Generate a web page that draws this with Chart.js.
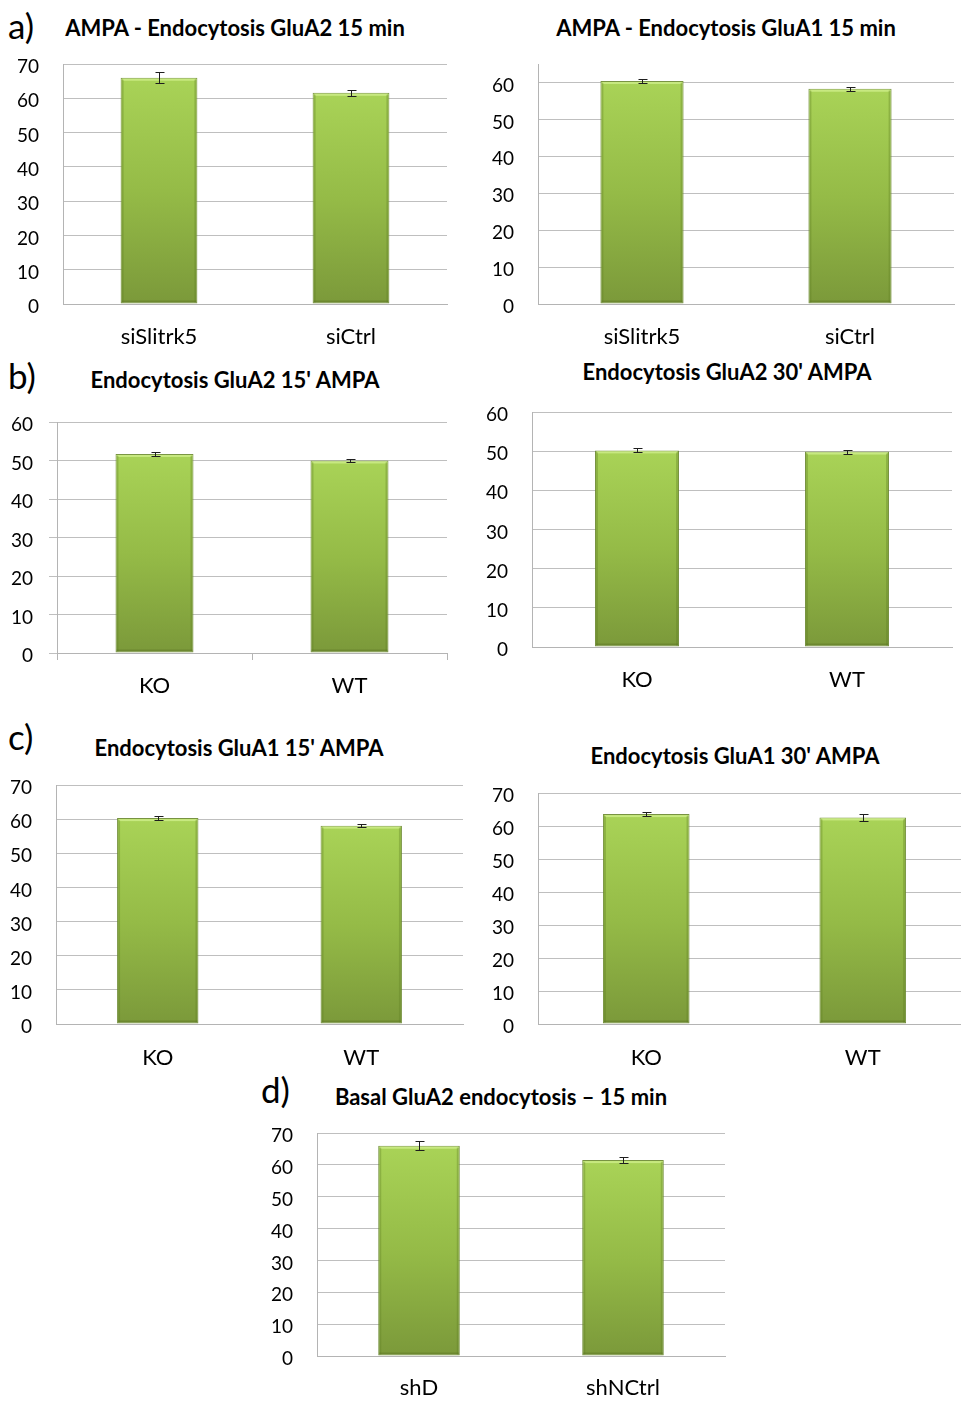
<!DOCTYPE html>
<html><head><meta charset="utf-8">
<script src="https://cdn.jsdelivr.net/npm/chart.js@4.4.1/dist/chart.umd.min.js"></script>
<style>
html,body{margin:0;padding:0;background:#fff;overflow:hidden;width:961px;height:1402px;}
body{position:relative;font-family:Lato,sans-serif;color:#000;}
canvas{position:absolute;}
.t{position:absolute;font-weight:bold;font-size:22px;line-height:1;white-space:nowrap;transform:translate(-50%,-55%);}
.p{position:absolute;font-size:35px;line-height:1;white-space:nowrap;transform:translate(0,-55%);}
</style></head><body>
<div class="p" style="left:8px;top:27px;">a)</div>
<div class="p" style="left:8px;top:377px;">b)</div>
<div class="p" style="left:8px;top:738px;">c)</div>
<div class="p" style="left:261px;top:1091px;">d)</div>
<div class="t" style="left:235px;top:29px;">AMPA - Endocytosis GluA2 15 min</div>
<div class="t" style="left:726px;top:29px;">AMPA - Endocytosis GluA1 15 min</div>
<div class="t" style="left:235px;top:381px;">Endocytosis GluA2 15' AMPA</div>
<div class="t" style="left:727px;top:373px;">Endocytosis GluA2 30' AMPA</div>
<div class="t" style="left:239px;top:749px;">Endocytosis GluA1 15' AMPA</div>
<div class="t" style="left:735px;top:757px;">Endocytosis GluA1 30' AMPA</div>
<div class="t" style="left:501px;top:1098px;">Basal GluA2 endocytosis – 15 min</div>
<script>
// ---- data ----
const catsSi = ['siSlitrk5', 'siCtrl'];
const catsGeno = ['KO', 'WT'];
const catsSh = ['shD', 'shNCtrl'];

const glua2Si15 = [66.0, 61.6];
const glua2Si15Err = [1.6, 0.9];
const glua1Si15 = [60.4, 58.3];
const glua1Si15Err = [0.5, 0.5];
const glua2Geno15 = [51.7, 50.0];
const glua2Geno15Err = [0.5, 0.5];
const glua2Geno30 = [50.2, 49.9];
const glua2Geno30Err = [0.5, 0.5];
const glua1Geno15 = [60.3, 58.1];
const glua1Geno15Err = [0.5, 0.5];
const glua1Geno30 = [63.6, 62.6];
const glua1Geno30Err = [0.7, 1.0];
const basalSh15 = [66.0, 61.5];
const basalSh15Err = [1.35, 0.9];

const yTicks70 = [0, 10, 20, 30, 40, 50, 60, 70];
const yTicks60 = [0, 10, 20, 30, 40, 50, 60];

// ---- plugins ----
const bevel = {
  id: 'bevel',
  afterDatasetsDraw(chart) {
    const meta = chart.getDatasetMeta(0);
    const ctx = chart.ctx;
    ctx.save();
    meta.data.forEach(bar => {
      const w = bar.width, x0 = bar.x - w / 2, x1 = bar.x + w / 2;
      const yt = bar.y, yb = bar.base;
      ctx.fillStyle = 'rgba(205,236,135,0.85)';
      ctx.fillRect(x0 + 2, yt + 1, w - 4, 2);
      ctx.fillStyle = 'rgba(95,125,35,0.35)';
      ctx.fillRect(x0 + 1, yt + 2, 2, yb - yt - 3);
      ctx.fillRect(x1 - 3, yt + 2, 2, yb - yt - 3);
      ctx.fillStyle = 'rgba(90,115,35,0.45)';
      ctx.fillRect(x0 + 1, yb - 3, w - 2, 2);
    });
    ctx.restore();
  }
};

const errorBars = {
  id: 'errorBars',
  afterDatasetsDraw(chart) {
    const ds = chart.data.datasets[0];
    const errs = ds.errors;
    if (!errs) return;
    const meta = chart.getDatasetMeta(0);
    const y = chart.scales.y;
    const ctx = chart.ctx;
    ctx.save();
    ctx.strokeStyle = '#1e1e1e';
    ctx.lineWidth = 1;
    meta.data.forEach((bar, i) => {
      const x = Math.round(bar.x) + 0.5;
      const yt = Math.round(y.getPixelForValue(ds.data[i] + errs[i])) + 0.5;
      const yb = Math.round(y.getPixelForValue(ds.data[i] - errs[i])) + 0.5;
      ctx.beginPath();
      ctx.moveTo(x, yt); ctx.lineTo(x, yb);
      ctx.moveTo(x - 4, yt); ctx.lineTo(x + 5, yt);
      ctx.moveTo(x - 4, yb); ctx.lineTo(x + 5, yb);
      ctx.stroke();
    });
    ctx.restore();
  }
};

function makeChart(p) {
  const padTop = 40, yW = 60, xH = 50, padR = 2;
  const w = Math.round(p.R - p.L) + yW + padR;
  const h = Math.round(p.B - p.T) + padTop + xH;
  const c = document.createElement('canvas');
  c.width = w; c.height = h;
  c.style.left = Math.round(p.L - yW) + 'px';
  c.style.top = Math.round(p.T - padTop) + 'px';
  c.style.width = w + 'px'; c.style.height = h + 'px';
  document.body.appendChild(c);
  const tl = p.ticks ? 7 : 0;
  new Chart(c, {
    type: 'bar',
    data: {
      labels: p.labels,
      datasets: [{
        data: p.values,
        errors: p.errors,
        backgroundColor(ctx) {
          const chart = ctx.chart;
          if (!chart.chartArea || ctx.raw === undefined) return '#95bc47';
          const top = chart.scales.y.getPixelForValue(ctx.raw);
          const g = chart.ctx.createLinearGradient(0, top, 0, chart.chartArea.bottom);
          g.addColorStop(0, '#a9d357');
          g.addColorStop(0.5, '#95bb47');
          g.addColorStop(1, '#7b993a');
          return g;
        },
        borderColor: 'rgba(105,135,45,0.9)',
        borderWidth: 1,
        borderSkipped: false,
        barPercentage: 0.4,
        categoryPercentage: 1
      }]
    },
    options: {
      responsive: false,
      animation: false,
      devicePixelRatio: 1,
      layout: { padding: { top: padTop, right: padR, left: 0, bottom: 0 } },
      plugins: { legend: { display: false }, tooltip: { enabled: false }, title: { display: false } },
      scales: {
        x: {
          grid: { display: !!p.ticks, drawOnChartArea: false, drawTicks: !!p.ticks, tickLength: tl, color: '#b4b4b4', offset: true },
          border: { display: true, color: '#b4b4b4', width: 1 },
          ticks: { font: { family: 'Lato', size: 22 }, color: '#000', padding: p.xLab - 13.2 - tl, maxRotation: 0, autoSkip: false },
          afterFit(s) { s.height = xH; }
        },
        y: {
          min: 0, max: p.max,
          grid: { color: '#bfbfbf', drawTicks: !!p.ticks, tickLength: p.ticks ? 8 : 0 },
          border: { display: true, color: '#b4b4b4', width: 1 },
          ticks: { font: { family: 'Lato', size: 19 }, color: '#000', padding: p.ticks ? 16 : 24, labelOffset: 3 },
          afterBuildTicks(s) { s.ticks = p.yTicks.map(v => ({ value: v })); },
          afterFit(s) { s.width = yW; }
        }
      }
    },
    plugins: [bevel, errorBars]
  });
}

const panels = [
  { labels: catsSi, values: glua2Si15, errors: glua2Si15Err, yTicks: yTicks70, max: 70, L: 63, R: 447, T: 64, B: 304, xLab: 33 },
  { labels: catsSi, values: glua1Si15, errors: glua1Si15Err, yTicks: yTicks60, max: 65, L: 538, R: 954, T: 64, B: 304, xLab: 33 },
  { labels: catsGeno, values: glua2Geno15, errors: glua2Geno15Err, yTicks: yTicks60, max: 60, L: 57, R: 447, T: 422, B: 653, xLab: 33, ticks: true },
  { labels: catsGeno, values: glua2Geno30, errors: glua2Geno30Err, yTicks: yTicks60, max: 60, L: 532, R: 952, T: 412, B: 647, xLab: 33 },
  { labels: catsGeno, values: glua1Geno15, errors: glua1Geno15Err, yTicks: yTicks70, max: 70, L: 56, R: 463, T: 785, B: 1024, xLab: 34 },
  { labels: catsGeno, values: glua1Geno30, errors: glua1Geno30Err, yTicks: yTicks70, max: 70, L: 538, R: 971, T: 793, B: 1024, xLab: 34 },
  { labels: catsSh, values: basalSh15, errors: basalSh15Err, yTicks: yTicks70, max: 70, L: 317, R: 725, T: 1133, B: 1356, xLab: 32 }
];
panels.forEach(makeChart);
</script>
</body></html>
